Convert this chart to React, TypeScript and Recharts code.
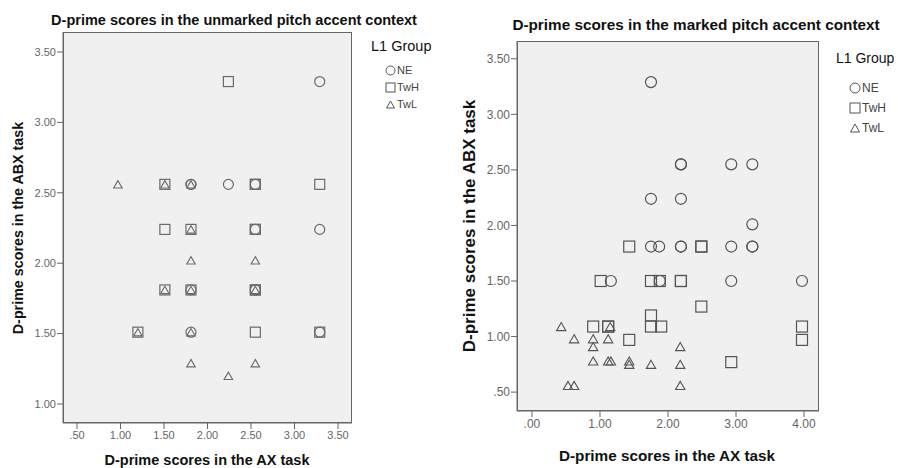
import React from "react";
import { ScatterChart, Scatter, XAxis, YAxis, CartesianGrid } from "recharts";

type P = { x: number; y: number };

// Unmarked pitch accent context (left panel)
const unmarkedNE: P[] = [
  { x: 3.29, y: 3.29 }, { x: 1.81, y: 2.56 }, { x: 1.81, y: 2.56 }, { x: 2.24, y: 2.56 },
  { x: 2.55, y: 2.56 }, { x: 2.55, y: 2.24 }, { x: 3.29, y: 2.24 }, { x: 1.81, y: 1.81 },
  { x: 2.55, y: 1.81 }, { x: 1.81, y: 1.51 }, { x: 3.29, y: 1.51 },
];
const unmarkedTwH: P[] = [
  { x: 2.24, y: 3.29 }, { x: 1.51, y: 2.56 }, { x: 2.55, y: 2.56 }, { x: 2.55, y: 2.56 },
  { x: 3.29, y: 2.56 }, { x: 1.51, y: 2.24 }, { x: 1.81, y: 2.24 }, { x: 2.55, y: 2.24 },
  { x: 2.55, y: 2.24 }, { x: 1.51, y: 1.81 }, { x: 1.81, y: 1.81 }, { x: 2.55, y: 1.81 },
  { x: 2.55, y: 1.81 }, { x: 1.2, y: 1.51 }, { x: 2.55, y: 1.51 }, { x: 3.29, y: 1.51 },
];
const unmarkedTwL: P[] = [
  { x: 0.97, y: 2.56 }, { x: 1.51, y: 2.56 }, { x: 1.81, y: 2.56 }, { x: 1.81, y: 2.24 },
  { x: 1.81, y: 2.02 }, { x: 2.55, y: 2.02 }, { x: 1.51, y: 1.81 }, { x: 1.81, y: 1.81 },
  { x: 2.55, y: 1.81 }, { x: 1.2, y: 1.51 }, { x: 1.81, y: 1.51 }, { x: 1.81, y: 1.29 },
  { x: 2.55, y: 1.29 }, { x: 2.24, y: 1.2 },
];

// Marked pitch accent context (right panel)
const markedNE: P[] = [
  { x: 1.75, y: 3.29 }, { x: 2.19, y: 2.55 }, { x: 2.19, y: 2.55 }, { x: 2.93, y: 2.55 },
  { x: 3.24, y: 2.55 }, { x: 1.75, y: 2.24 }, { x: 2.19, y: 2.24 }, { x: 3.24, y: 2.01 },
  { x: 1.75, y: 1.81 }, { x: 1.87, y: 1.81 }, { x: 2.19, y: 1.81 }, { x: 2.19, y: 1.81 },
  { x: 2.93, y: 1.81 }, { x: 3.24, y: 1.81 }, { x: 3.24, y: 1.81 }, { x: 1.16, y: 1.5 },
  { x: 1.88, y: 1.5 }, { x: 2.93, y: 1.5 }, { x: 3.97, y: 1.5 },
];
const markedTwH: P[] = [
  { x: 1.43, y: 1.81 }, { x: 2.49, y: 1.81 }, { x: 2.49, y: 1.81 }, { x: 1.01, y: 1.5 },
  { x: 1.75, y: 1.5 }, { x: 1.88, y: 1.5 }, { x: 2.19, y: 1.5 }, { x: 2.19, y: 1.5 },
  { x: 2.49, y: 1.27 }, { x: 1.75, y: 1.19 }, { x: 0.9, y: 1.09 }, { x: 1.12, y: 1.09 },
  { x: 1.12, y: 1.09 }, { x: 1.75, y: 1.09 }, { x: 1.9, y: 1.09 }, { x: 3.97, y: 1.09 },
  { x: 1.43, y: 0.97 }, { x: 3.97, y: 0.97 }, { x: 2.93, y: 0.77 },
];
const markedTwL: P[] = [
  { x: 0.43, y: 1.09 }, { x: 1.15, y: 1.09 }, { x: 0.62, y: 0.98 }, { x: 0.9, y: 0.98 },
  { x: 1.12, y: 0.98 }, { x: 0.9, y: 0.91 }, { x: 2.18, y: 0.91 }, { x: 0.9, y: 0.78 },
  { x: 1.12, y: 0.78 }, { x: 1.16, y: 0.78 }, { x: 1.43, y: 0.78 }, { x: 1.43, y: 0.75 },
  { x: 1.75, y: 0.75 }, { x: 2.18, y: 0.75 }, { x: 0.53, y: 0.56 }, { x: 0.62, y: 0.56 },
  { x: 2.18, y: 0.56 },
];

const unmarkedXTicks = [0.5, 1, 1.5, 2, 2.5, 3, 3.5];
const unmarkedYTicks = [1, 1.5, 2, 2.5, 3, 3.5];
const markedXTicks = [0, 1, 2, 3, 4];
const markedYTicks = [0.5, 1, 1.5, 2, 2.5, 3, 3.5];

const groups = ["NE", "TwH", "TwL"];
const FONT = "'Liberation Sans', Arial, sans-serif";

const fmt = (v: number) => {
  const s = v.toFixed(2);
  return s.startsWith("0") ? s.slice(1) : s;
};

const makeShape = (kind: string, size: number, stroke: string) => (props: any) => {
  const { cx, cy } = props;
  if (cx == null || cy == null) return <g />;
  if (kind === "circle")
    return <circle cx={cx} cy={cy} r={size / 2} fill="none" stroke={stroke} strokeWidth={1.2} />;
  if (kind === "square")
    return (
      <rect x={cx - size / 2} y={cy - size / 2} width={size} height={size} fill="none" stroke={stroke} strokeWidth={1.2} />
    );
  const w = size * 0.85;
  const h = w * 0.87;
  return (
    <polygon
      points={`${cx},${cy - h / 2} ${cx - w / 2},${cy + h / 2} ${cx + w / 2},${cy + h / 2}`}
      fill="none"
      stroke={stroke}
      strokeWidth={1.1}
    />
  );
};

const LegendIcon = ({ kind, s }: { kind: string; s: number }) => (
  <svg width={s + 2} height={s + 2} style={{ marginRight: 1 }}>
    {kind === "circle" && <circle cx={(s + 2) / 2} cy={(s + 2) / 2} r={s / 2} fill="none" stroke="#555" />}
    {kind === "square" && <rect x={1} y={1} width={s} height={s} fill="none" stroke="#555" />}
    {kind === "triangle" && (
      <polygon points={`${(s + 2) / 2},2 1.5,${s} ${s + 0.5},${s}`} fill="none" stroke="#555" />
    )}
  </svg>
);

type PanelProps = {
  left: number;
  width: number;
  plot: { top: number; left: number; right: number; bottom: number };
  xDomain: [number, number];
  yDomain: [number, number];
  xTicks: number[];
  yTicks: number[];
  ne: P[];
  twh: P[];
  twl: P[];
  mSize: number;
  stroke: string;
  tickFont: number;
};

const Panel = (p: PanelProps) => (
  <div style={{ position: "absolute", left: p.left, top: 0 }}>
    <ScatterChart width={p.width} height={468} margin={{ top: p.plot.top, right: p.plot.right, left: 0, bottom: 0 }}>
      <CartesianGrid fill="#f0f0f0" horizontal={false} vertical={false} />
      <XAxis
        type="number"
        dataKey="x"
        domain={p.xDomain}
        ticks={p.xTicks}
        tickFormatter={fmt}
        allowDataOverflow
        height={p.plot.bottom}
        axisLine={{ stroke: "#666" }}
        tickLine={{ stroke: "#666" }}
        tickSize={6}
        tickMargin={2}
        tick={{ fill: "#666", fontSize: p.tickFont, fontFamily: FONT }}
        interval={0}
      />
      <YAxis
        type="number"
        dataKey="y"
        domain={p.yDomain}
        ticks={p.yTicks}
        tickFormatter={fmt}
        allowDataOverflow
        width={p.plot.left}
        axisLine={{ stroke: "#666" }}
        tickLine={{ stroke: "#666" }}
        tickSize={6}
        tickMargin={1}
        tick={{ fill: "#666", fontSize: p.tickFont, fontFamily: FONT }}
        interval={0}
      />
      <Scatter name="NE" data={p.ne} isAnimationActive={false} shape={makeShape("circle", p.mSize, p.stroke)} />
      <Scatter name="TwH" data={p.twh} isAnimationActive={false} shape={makeShape("square", p.mSize, p.stroke)} />
      <Scatter name="TwL" data={p.twl} isAnimationActive={false} shape={makeShape("triangle", p.mSize, p.stroke)} />
    </ScatterChart>
    <div
      style={{
        position: "absolute",
        left: p.plot.left,
        top: p.plot.top,
        width: p.width - p.plot.left - p.plot.right,
        height: 468 - p.plot.top - p.plot.bottom,
        border: "1px solid #666",
        boxSizing: "border-box",
        pointerEvents: "none",
      }}
    />
  </div>
);

const Text = ({ x, y, size, bold, children, rotate, color }: any) => (
  <div
    style={{
      position: "absolute",
      left: x,
      top: y,
      transform: `translate(-50%, -50%)${rotate ? " rotate(-90deg)" : ""}`,
      fontFamily: FONT,
      fontSize: size,
      fontWeight: bold ? "bold" : "normal",
      color: color || "#111",
      whiteSpace: "nowrap",
      lineHeight: 1,
    }}
  >
    {children}
  </div>
);

const Legend = ({ x, y, titleSize, itemSize, gap, icon, indent, titleGap }: any) => (
  <div style={{ position: "absolute", left: x, top: y, fontFamily: FONT }}>
    <div style={{ fontSize: titleSize, color: "#111", lineHeight: 1, marginBottom: titleGap }}>L1 Group</div>
    {groups.map((g, i) => (
      <div
        key={g}
        style={{ display: "flex", alignItems: "center", height: gap, marginLeft: indent, fontSize: itemSize, color: "#444" }}
      >
        <LegendIcon kind={["circle", "square", "triangle"][i]} s={icon} />
        <span>{g}</span>
      </div>
    ))}
  </div>
);

export default function App() {
  return (
    <div style={{ position: "absolute", left: 0, top: 0, width: 898, height: 468, background: "#fff", overflow: "hidden" }}>
      <Panel
        left={0}
        width={450}
        plot={{ top: 32, left: 63, right: 98, bottom: 45 }}
        xDomain={[0.339, 3.661]}
        yDomain={[0.865, 3.642]}
        xTicks={unmarkedXTicks}
        yTicks={unmarkedYTicks}
        ne={unmarkedNE}
        twh={unmarkedTwH}
        twl={unmarkedTwL}
        mSize={10}
        stroke="#6a6a6a"
        tickFont={11}
      />
      <Panel
        left={440}
        width={458}
        plot={{ top: 41, left: 77, right: 79, bottom: 57 }}
        xDomain={[-0.22, 4.22]}
        yDomain={[0.33, 3.66]}
        xTicks={markedXTicks}
        yTicks={markedYTicks}
        ne={markedNE}
        twh={markedTwH}
        twl={markedTwL}
        mSize={11}
        stroke="#555"
        tickFont={12}
      />
      <Text x={234} y={20} size={14.5} bold>D-prime scores in the unmarked pitch accent context</Text>
      <Text x={207} y={460} size={14.5} bold>D-prime scores in the AX task</Text>
      <Text x={18} y={228} size={14.3} bold rotate>D-prime scores in the ABX task</Text>

      <Text x={696} y={25} size={15.3} bold>D-prime scores in the marked pitch accent context</Text>
      <Text x={667} y={456} size={15.3} bold>D-prime scores in the AX task</Text>
      <Text x={469} y={226} size={17} bold rotate>D-prime scores in the ABX task</Text>

      <Legend x={371} y={39} titleSize={14.5} itemSize={11} gap={17} icon={9} indent={14} titleGap={8} />
      <Legend x={836} y={51} titleSize={14} itemSize={12} gap={20} icon={10} indent={13} titleGap={13} />
    </div>
  );
}
